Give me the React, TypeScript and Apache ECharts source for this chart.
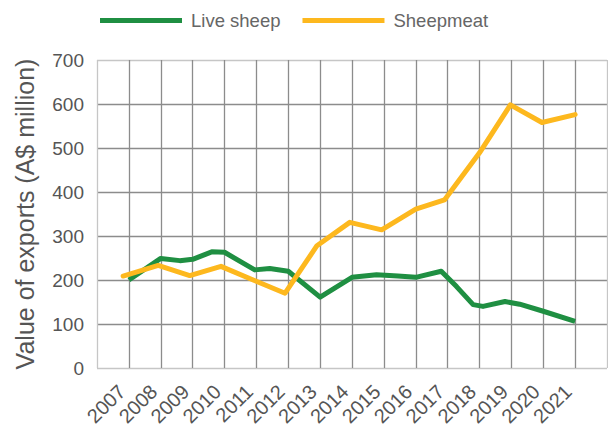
import React, { useEffect, useRef } from "react";
import * as echarts from "echarts";

const yearTicks = [2006, 2007, 2008, 2009, 2010, 2011, 2012, 2013, 2014, 2015, 2016, 2017, 2018, 2019, 2020, 2021, 2022];

const liveSheepX = [2007, 2008, 2008.6, 2009, 2009.6, 2010, 2010.95, 2011.42, 2012, 2013, 2014, 2014.77, 2015.44, 2016, 2016.8, 2017.28, 2017.8, 2018.11, 2018.8, 2019.26, 2020, 2021];
const liveSheepY = [200, 249, 244, 247, 264, 263, 223, 226, 220, 161, 206, 212, 209, 206, 220, 185, 144, 140, 151, 145, 129, 106];

const sheepmeatX = [2006.82, 2007.92, 2008.91, 2009.89, 2010.9, 2011.9, 2012.9, 2013.93, 2014.93, 2016, 2016.9, 2018, 2018.97, 2019.96, 2021];
const sheepmeatY = [209, 233, 210, 231, 200, 170, 278, 331, 314, 361, 382, 489, 598, 558, 576];

const GREEN = "#1f8f42";
const YELLOW = "#fdb81e";
const INNER = "#8c8c8c";
const OUTER = "#c6c6c6";
const FONT = "'Liberation Sans', Arial, sans-serif";

export default function App() {
  const ref = useRef<HTMLDivElement>(null);
  useEffect(() => {
    if (!ref.current) return;
    const chart = echarts.init(ref.current, undefined, { renderer: "svg" });
    const xColors = yearTicks.map((_, i) => (i === 0 || i === yearTicks.length - 1 ? OUTER : INNER));
    const yColors = [OUTER, INNER, INNER, INNER, INNER, INNER, INNER, OUTER];
    chart.setOption({
      animation: false,
      textStyle: { fontFamily: FONT },
      legend: {
        left: 95,
        top: 6,
        icon: "rect",
        itemWidth: 82,
        itemHeight: 5,
        itemGap: 22,
        textStyle: { fontSize: 18.5, color: "#666", fontFamily: FONT, padding: [0, 0, 0, 4] },
        data: ["Live sheep", "Sheepmeat"],
      },
      grid: { left: 97, right: 1, top: 60, bottom: 64 },
      xAxis: {
        type: "value",
        min: 2006,
        max: 2022,
        interval: 1,
        axisLine: { show: false },
        axisTick: { show: false },
        axisLabel: {
          showMinLabel: false,
          showMaxLabel: false,
          rotate: 45,
          margin: 13,
          padding: [0, 10, 0, 0],
          fontSize: 20,
          color: "#555",
          fontFamily: FONT,
          formatter: (v: number) => (v >= 2007 && v <= 2021 ? String(v) : ""),
        },
        splitLine: { show: true, lineStyle: { color: xColors, width: 1.3 } },
      },
      yAxis: {
        type: "value",
        min: 0,
        max: 700,
        interval: 100,
        name: "Value of exports (A$ million)",
        nameLocation: "middle",
        nameRotate: 90,
        nameGap: 60,
        nameTextStyle: { fontSize: 25, color: "#555", fontFamily: FONT },
        axisLine: { show: false },
        axisTick: { show: false },
        axisLabel: { margin: 13, fontSize: 19, color: "#555", fontFamily: FONT },
        splitLine: { show: true, lineStyle: { color: yColors, width: 1.3 } },
      },
      series: [
        {
          name: "Live sheep",
          type: "line",
          data: liveSheepX.map((x, i) => [x, liveSheepY[i]]),
          symbol: "none",
          lineStyle: { color: GREEN, width: 5, join: "round" },
          itemStyle: { color: GREEN },
        },
        {
          name: "Sheepmeat",
          type: "line",
          data: sheepmeatX.map((x, i) => [x, sheepmeatY[i]]),
          symbol: "none",
          lineStyle: { color: YELLOW, width: 5, cap: "round", join: "round" },
          itemStyle: { color: YELLOW },
        },
      ],
    });
    return () => chart.dispose();
  }, []);
  return <div ref={ref} style={{ width: 608, height: 432, position: "absolute", left: 0, top: 0 }} />;
}
